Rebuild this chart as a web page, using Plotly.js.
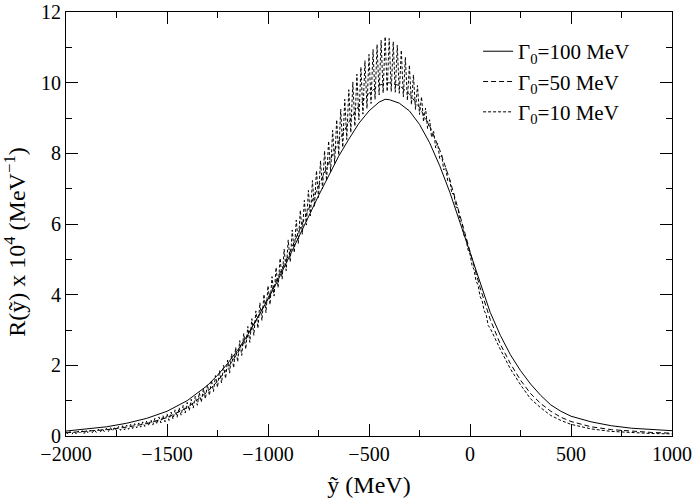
<!DOCTYPE html>
<html>
<head>
<meta charset="utf-8">
<script src="https://cdn.plot.ly/plotly-3.0.1.min.js"></script>
<style>
  html, body { margin: 0; padding: 0; background: #fff; }
  #chart { width: 700px; height: 498px; }
</style>
</head>
<body>
<div id="chart"></div>
<script>
"use strict";

// Γ0 = 100 MeV (solid)
const wideX = [-2000, -1900, -1800, -1700, -1600, -1500, -1400, -1300, -1250, -1200, -1150, -1100, -1050, -1000,
    -950, -900, -850, -800, -750, -700, -650, -600, -550, -500, -450, -420, -400, -350, -300, -250, -200,
    -150, -100, -50, 0, 50, 100, 150, 200, 250, 300, 350, 400, 450, 500, 600, 700, 800, 900, 1000];
const wideY = [0.14, 0.19, 0.26, 0.36, 0.5, 0.7, 1.0, 1.43, 1.72, 2.05, 2.43, 2.87, 3.35, 3.87,
    4.42, 5.0, 5.6, 6.2, 6.8, 7.38, 7.92, 8.4, 8.85, 9.2, 9.45, 9.53, 9.52, 9.42, 9.2, 8.82, 8.3,
    7.65, 6.9, 6.05, 5.2, 4.3, 3.5, 2.85, 2.3, 1.85, 1.47, 1.15, 0.88, 0.7, 0.56, 0.4, 0.29, 0.22, 0.18, 0.15];

// Γ0 = 50 MeV (long dashes)
const midX = [-2000, -1900, -1800, -1700, -1600, -1500, -1400, -1300, -1250, -1200, -1150, -1100, -1050, -1000,
    -950, -900, -850, -800, -750, -700, -650, -600, -550, -500, -450, -400, -350, -300, -250, -200,
    -150, -100, -50, 0, 50, 100, 150, 200, 250, 300, 350, 400, 450, 500, 600, 700, 800, 900, 1000];
const midY = [0.09, 0.13, 0.18, 0.25, 0.35, 0.52, 0.8, 1.25, 1.55, 1.92, 2.35, 2.83, 3.35, 3.9,
    4.5, 5.1, 5.75, 6.42, 7.08, 7.72, 8.33, 8.88, 9.35, 9.7, 9.93, 10.0, 9.92, 9.68, 9.3, 8.78,
    8.1, 7.25, 6.25, 5.2, 4.2, 3.3, 2.6, 2.05, 1.58, 1.2, 0.92, 0.7, 0.53, 0.41, 0.26, 0.18, 0.13, 0.1, 0.08];

// Γ0 = 10 MeV (short dashes): fast wiggle, 20 MeV apart.
// crests at -2000, -1980, ..., 100 ; troughs at -1990, -1970, ..., 90
const narrowStart = -2000;
const narrowStep = 10;
const narrowCrest = [0.12, 0.13, 0.14, 0.14, 0.15, 0.16, 0.17, 0.18, 0.19, 0.21,
    0.22, 0.24, 0.25, 0.27, 0.29, 0.31, 0.33, 0.35, 0.37, 0.40,
    0.43, 0.46, 0.50, 0.54, 0.58, 0.63, 0.68, 0.74, 0.80, 0.87,
    0.95, 1.04, 1.13, 1.23, 1.34, 1.45, 1.58, 1.71, 1.85, 2.00,
    2.15, 2.33, 2.51, 2.70, 2.90, 3.10, 3.32, 3.54, 3.77, 4.01,
    4.25, 4.51, 4.77, 5.03, 5.29, 5.55, 5.83, 6.11, 6.39, 6.67,
    6.95, 7.23, 7.51, 7.79, 8.07, 8.35, 8.65, 8.95, 9.25, 9.53,
    9.80, 10.02, 10.24, 10.44, 10.62, 10.80, 10.94, 11.08, 11.20, 11.30,
    11.25, 11.16, 11.06, 10.92, 10.72, 10.50, 10.22, 9.92, 9.60, 9.28,
    8.95, 8.62, 8.28, 7.94, 7.60, 7.25, 6.86, 6.46, 6.04, 5.60,
    5.15, 4.71, 4.27, 3.83, 3.44, 3.05];
const narrowTrough = [0.05, 0.05, 0.06, 0.07, 0.07, 0.08, 0.09, 0.10, 0.11, 0.12,
    0.13, 0.14, 0.15, 0.16, 0.17, 0.19, 0.21, 0.23, 0.25, 0.27,
    0.29, 0.31, 0.34, 0.37, 0.40, 0.44, 0.48, 0.53, 0.59, 0.65,
    0.72, 0.79, 0.87, 0.96, 1.05, 1.15, 1.26, 1.38, 1.50, 1.63,
    1.78, 1.93, 2.10, 2.28, 2.46, 2.65, 2.85, 3.05, 3.27, 3.49,
    3.72, 3.96, 4.20, 4.44, 4.68, 4.93, 5.19, 5.45, 5.71, 5.97,
    6.23, 6.49, 6.75, 6.99, 7.23, 7.47, 7.71, 7.95, 8.17, 8.39,
    8.59, 8.77, 8.95, 9.11, 9.27, 9.41, 9.53, 9.65, 9.71, 9.75,
    9.75, 9.73, 9.70, 9.60, 9.50, 9.38, 9.24, 9.10, 8.90, 8.70,
    8.45, 8.15, 7.85, 7.53, 7.21, 6.86, 6.48, 6.10, 5.68, 5.27,
    4.83, 4.39, 3.95, 3.55, 3.13];
const narrowTailX = [150, 200, 250, 300, 350, 400, 450, 500, 600, 700, 800, 900, 1000];
const narrowTailY = [2.45, 1.9, 1.45, 1.05, 0.8, 0.58, 0.44, 0.33, 0.2, 0.13, 0.09, 0.07, 0.06];

const legendNames = ['Γ<sub>0</sub>=100 MeV', 'Γ<sub>0</sub>=50 MeV', 'Γ<sub>0</sub>=10 MeV'];

// crest / trough / crest ... then the smooth tail
const narrowX = [];
const narrowY = [];
narrowCrest.forEach((c, i) => {
    narrowX.push(narrowStart + 2 * i * narrowStep);
    narrowY.push(c);
    if (i < narrowTrough.length) {
        narrowX.push(narrowStart + (2 * i + 1) * narrowStep);
        narrowY.push(narrowTrough[i]);
    }
});
narrowX.push(...narrowTailX);
narrowY.push(...narrowTailY);

const serif = 'Liberation Serif';

const traces = [
    { x: wideX, y: wideY, type: 'scatter', mode: 'lines', name: legendNames[0],
      line: { color: '#000', width: 1 } },
    { x: midX, y: midY, type: 'scatter', mode: 'lines', name: legendNames[1],
      line: { color: '#000', width: 1, dash: '5px,3px' } },
    { x: narrowX, y: narrowY, type: 'scatter', mode: 'lines', name: legendNames[2],
      line: { color: '#000', width: 1, dash: '3px,2px' } }
];

const layout = {
    width: 700,
    height: 498,
    margin: { l: 66, r: 28, t: 12, b: 62 },
    font: { family: serif, size: 20, color: '#000' },
    showlegend: true,
    legend: {
        x: 0.68, y: 0.955, xanchor: 'left', yanchor: 'top',
        bgcolor: 'rgba(0,0,0,0)',
        font: { family: serif, size: 21, color: '#000' }
    },
    xaxis: {
        range: [-2000, 1000], dtick: 500,
        showline: true, linecolor: '#000', mirror: 'ticks',
        ticks: 'inside', ticklen: 12, tickcolor: '#000',
        showgrid: false, zeroline: false,
        minor: { dtick: 250, ticks: 'inside', ticklen: 6 },
        title: { text: 'ỹ (MeV)' }
    },
    yaxis: {
        range: [0, 12], dtick: 2,
        showline: true, linecolor: '#000', mirror: 'ticks',
        ticks: 'inside', ticklen: 12, tickcolor: '#000',
        showgrid: false, zeroline: false,
        minor: { dtick: 1, ticks: 'inside', ticklen: 6 },
        title: { text: 'R(ỹ) x 10<sup>4</sup> (MeV<sup>−1</sup>)&nbsp;&nbsp;&nbsp;&nbsp;&nbsp;&nbsp;' }
    }
};

Plotly.newPlot('chart', traces, layout, { displayModeBar: false });
</script>
</body>
</html>
